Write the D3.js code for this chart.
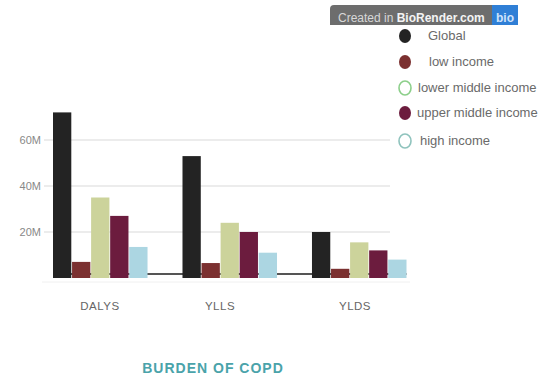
<!DOCTYPE html>
<html>
<head>
<meta charset="utf-8">
<script src="https://cdn.jsdelivr.net/npm/d3@7"></script>
<style>
  html, body { margin: 0; padding: 0; background: #fff; }
  svg { display: block; font-family: "Liberation Sans", Arial, sans-serif; }
</style>
</head>
<body>
<svg id="chart" width="552" height="379"></svg>
<script>
// Burden of COPD by income group (values in millions)
const measures = ["DALYS", "YLLS", "YLDS"];
const groups = ["Global", "low income", "lower middle income", "upper middle income", "high income"];
const globalVals = [72, 53, 20];
const lowVals = [7, 6.5, 4];
const lowerMiddleVals = [35, 24, 15.5];
const upperMiddleVals = [27, 20, 12];
const highVals = [13.5, 11, 8];
const yTicks = [20, 40, 60];
const yTickLabels = ["20M", "40M", "60M"];

const seriesVals = [globalVals, lowVals, lowerMiddleVals, upperMiddleVals, highVals];
const colors = ["#232323", "#7b3030", "#ccd39b", "#6c1c3e", "#acd6e2"];
const legendStroke = ["#232323", "#7b3030", "#8ccf8a", "#6c1c3e", "#8fc3bd"];
const legendFilled = [true, true, false, true, false];

const svg = d3.select("#chart");

const x0 = d3.scaleBand().domain(measures).range([53, 406.5]).paddingInner(0.27).paddingOuter(0);
const x1 = d3.scaleBand().domain(groups).range([0, x0.bandwidth()]).paddingInner(0.04);
const y = d3.scaleLinear().domain([0, 60]).range([278, 140]);

// gridlines
svg.append("g").selectAll("line").data(yTicks).join("line")
  .attr("x1", 44).attr("x2", 390)
  .attr("y1", d => y(d)).attr("y2", d => y(d))
  .attr("stroke", "#e6e6e6").attr("stroke-width", 1.5);

// faint base line
svg.append("line").attr("x1", 42).attr("x2", 410)
  .attr("y1", y(0) + 4).attr("y2", y(0) + 4)
  .attr("stroke", "#f0f0f0").attr("stroke-width", 1);

// y tick labels
svg.append("g").selectAll("text").data(yTicks).join("text")
  .attr("x", 41).attr("y", d => y(d) + 4)
  .attr("text-anchor", "end")
  .attr("font-size", 11).attr("fill", "#888")
  .text((d, i) => yTickLabels[i]);

// axis domain line, visible in the gaps between measure groups
svg.append("line")
  .attr("x1", x0.range()[0]).attr("x2", x0.range()[1])
  .attr("y1", y(0) - 4).attr("y2", y(0) - 4)
  .attr("stroke", "#555").attr("stroke-width", 2);

// bars
const g = svg.append("g").selectAll("g").data(measures).join("g")
  .attr("transform", d => `translate(${x0(d)},0)`);
g.selectAll("rect")
  .data((m, mi) => groups.map((grp, gi) => ({ grp, gi, v: seriesVals[gi][mi] })))
  .join("rect")
  .attr("x", d => x1(d.grp))
  .attr("width", x1.bandwidth())
  .attr("y", d => y(d.v))
  .attr("height", d => y(0) - y(d.v))
  .attr("fill", d => colors[d.gi]);

// category labels
const labelX = { "DALYS": 100, "YLLS": 220, "YLDS": 355 };
svg.append("g").selectAll("text").data(measures).join("text")
  .attr("x", d => labelX[d] !== undefined ? labelX[d] : x0(d) + x0.bandwidth() / 2)
  .attr("y", 310)
  .attr("text-anchor", "middle")
  .attr("font-size", 11.5).attr("letter-spacing", 0.5).attr("fill", "#666")
  .text(d => d);

// title
svg.append("text")
  .attr("x", 213).attr("y", 373)
  .attr("text-anchor", "middle")
  .attr("font-size", 14).attr("font-weight", "bold")
  .attr("letter-spacing", 1)
  .attr("fill", "#4aa3aa")
  .text("BURDEN OF COPD");

// BioRender badge
const badge = svg.append("g");
badge.append("path")
  .attr("d", "M330,27 L330,9 Q330,5 334,5 L514,5 Q518,5 518,9 L518,27 Z")
  .attr("fill", "#6d6d6d");
badge.append("rect").attr("x", 492).attr("y", 5).attr("width", 26).attr("height", 22)
  .attr("fill", "#2f7fd6");
badge.append("text").attr("x", 496).attr("y", 22)
  .attr("font-size", 12).attr("font-weight", "bold").attr("fill", "#cfe3fb").text("bio");
const bt = badge.append("text").attr("x", 338).attr("y", 22)
  .attr("font-size", 12).attr("fill", "#d8d8d8");
bt.append("tspan").text("Created in ");
bt.append("tspan").attr("font-weight", "bold").attr("fill", "#f4f4f4").text("BioRender.com");
svg.append("rect").attr("x", 320).attr("y", 25).attr("width", 232).attr("height", 4).attr("fill", "#fff");

// legend
const legendY = [36, 62, 88, 113, 141];
const legendTextX = [428, 429, 418, 417, 420];
const lg = svg.append("g").selectAll("g").data(groups).join("g");
lg.append("ellipse")
  .attr("cx", 405).attr("cy", (d, i) => legendY[i])
  .attr("rx", 6).attr("ry", 7)
  .attr("fill", (d, i) => legendFilled[i] ? colors[i] : "#fff")
  .attr("stroke", (d, i) => legendStroke[i])
  .attr("stroke-width", (d, i) => legendFilled[i] ? 0 : 1.6);
lg.append("text")
  .attr("x", (d, i) => legendTextX[i]).attr("y", (d, i) => legendY[i] + 4)
  .attr("font-size", 13).attr("fill", "#6a6a6a")
  .text(d => d);
</script>
</body>
</html>
